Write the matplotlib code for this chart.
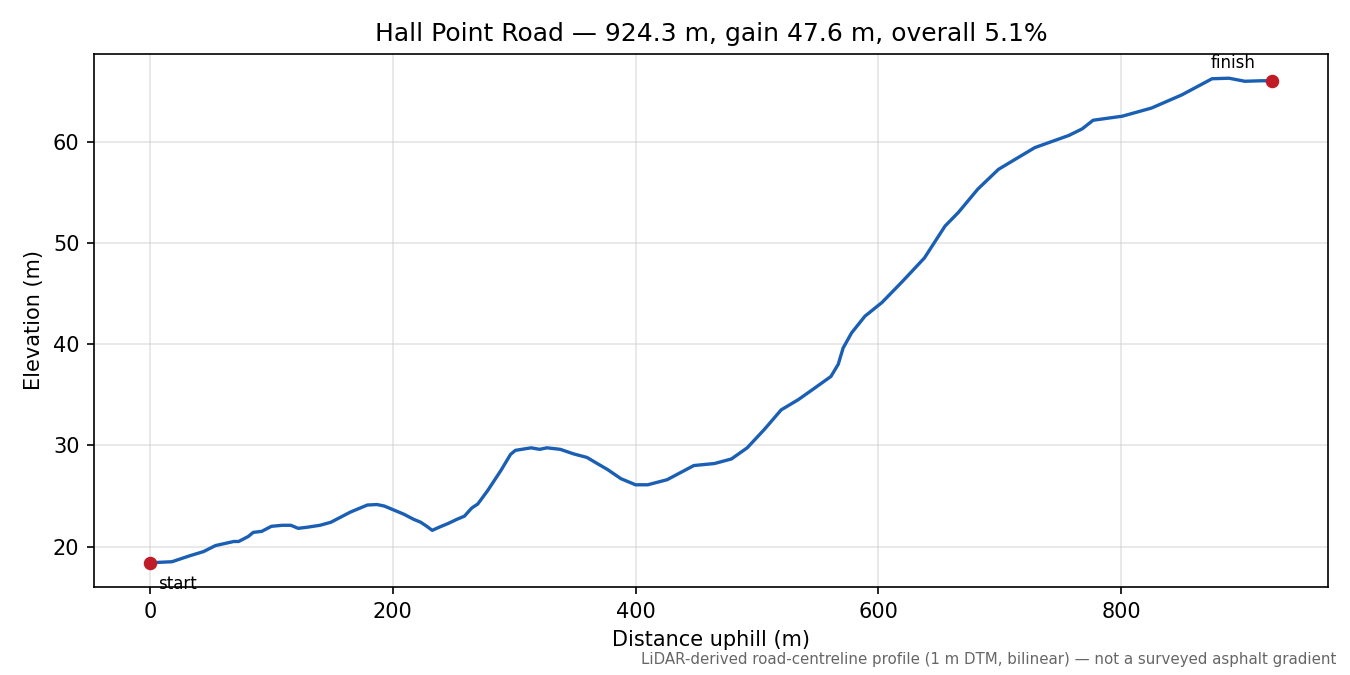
import matplotlib
matplotlib.use("Agg")
import matplotlib.pyplot as plt
import numpy as np

# profile (distance m, elevation m)
dist = [0, 18, 33, 44, 54, 69, 73, 81, 85, 92, 100, 109, 116, 122, 129, 140,
        149, 157, 165, 173, 179, 187, 193, 201, 209, 217, 223, 228, 232.5, 238,
        246, 253, 259, 265, 270, 278, 289, 297, 301, 314, 321, 327, 338, 349,
        360, 367, 377, 388, 400, 410, 426, 448, 465, 479, 492, 506, 520, 534,
        547, 561, 567, 571, 578, 589, 603, 616, 622, 638, 655, 666, 682, 699,
        715, 729, 757, 768, 777, 801, 825, 850, 875, 889, 902, 916, 924.3]
elev = [18.4, 18.5, 19.1, 19.5, 20.1, 20.5, 20.5, 21.0, 21.4, 21.5, 22.0, 22.1,
        22.1, 21.8, 21.9, 22.1, 22.4, 22.9, 23.4, 23.8, 24.1, 24.15, 24.0, 23.6,
        23.2, 22.7, 22.4, 22.0, 21.6, 21.9, 22.3, 22.7, 23.0, 23.8, 24.2, 25.5,
        27.5, 29.1, 29.5, 29.75, 29.6, 29.75, 29.6, 29.15, 28.8, 28.3, 27.6, 26.7,
        26.1, 26.1, 26.6, 28.0, 28.2, 28.65, 29.75, 31.55, 33.5, 34.5, 35.6, 36.8,
        38.0, 39.6, 41.1, 42.75, 44.1, 45.7, 46.45, 48.5, 51.65, 53.0, 55.3, 57.25,
        58.4, 59.4, 60.6, 61.25, 62.1, 62.5, 63.3, 64.6, 66.2, 66.25, 65.95, 66.0,
        66.0]

title = "Hall Point Road \u2014 924.3 m, gain 47.6 m, overall 5.1%"
note = ("LiDAR-derived road-centreline profile (1 m DTM, bilinear) \u2014 "
        "not a surveyed asphalt gradient")

fig, ax = plt.subplots(figsize=(9, 4.5), dpi=150)
fig.subplots_adjust(left=0.0696, right=0.9837, top=0.92, bottom=0.1304)

ax.plot(dist, elev, color="#1a5fb4", lw=1.6, zorder=2)
ax.scatter([dist[0], dist[-1]], [elev[0], elev[-1]], color="#c01c28", s=30, zorder=3)
ax.annotate("start", (dist[0], elev[0]), xytext=(4, -6), textcoords="offset points",
            ha="left", va="top", fontsize=8)
ax.annotate("finish", (dist[-1], elev[-1]), xytext=(-8, 4), textcoords="offset points",
            ha="right", va="bottom", fontsize=8)

ax.set_title(title, fontsize=12)
ax.set_xlabel("Distance uphill (m)")
ax.set_ylabel("Elevation (m)")
ax.grid(True, color="#cccccc", alpha=0.5, lw=0.8)
ax.set_xticks([0, 200, 400, 600, 800])
ax.set_yticks([20, 30, 40, 50, 60])

fig.text(0.99, 0.012, note, ha="right", va="bottom", fontsize=7.2, color="#666666")

fig.savefig("out.png", dpi=150)
